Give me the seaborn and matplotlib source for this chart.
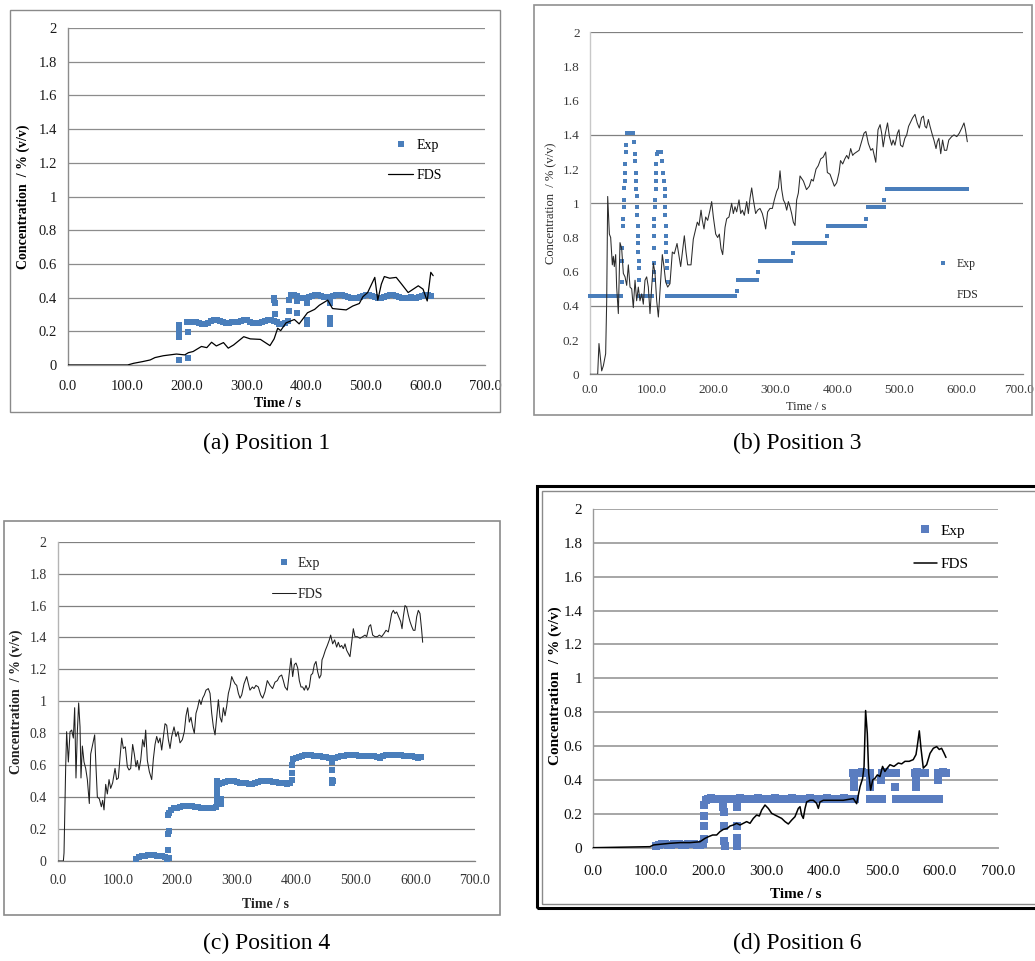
import numpy as np
import pandas as pd
import matplotlib
matplotlib.use("Agg")
import matplotlib.pyplot as plt
import seaborn as sns
from matplotlib.patches import Rectangle
from matplotlib.transforms import ScaledTranslation

# ---------------- data ----------------
x_ticks = [0, 100, 200, 300, 400, 500, 600, 700]
x_tick_labels = ["0.0", "100.0", "200.0", "300.0", "400.0", "500.0", "600.0", "700.0"]
y_ticks = [0, 0.2, 0.4, 0.6, 0.8, 1.0, 1.2, 1.4, 1.6, 1.8, 2.0]
y_tick_labels = ["0", "0.2", "0.4", "0.6", "0.8", "1", "1.2", "1.4", "1.6", "1.8", "2"]
series_names = ["Exp", "FDS"]
captions = ["(a) Position 1", "(b) Position 3", "(c) Position 4", "(d) Position 6"]
y_label = "Concentration  / % (v/v)"
x_label = "Time / s"

# ---- Position 1 ----
a_fds = [(0, 0), (100, 0), (110, 0.01), (125, 0.02), (138, 0.03), (146, 0.044), (160, 0.055),
         (182, 0.065), (196, 0.06), (202, 0.073), (210, 0.08), (224, 0.11), (233, 0.103),
         (241, 0.135), (249, 0.113), (261, 0.133), (269, 0.10), (278, 0.119), (295, 0.168),
         (306, 0.155), (323, 0.152), (339, 0.115), (346, 0.155), (352, 0.218), (357, 0.204),
         (366, 0.25), (380, 0.27), (388, 0.244), (402, 0.31), (414, 0.33), (422, 0.355),
         (436, 0.385), (444, 0.335), (458, 0.33), (467, 0.327), (478, 0.35), (489, 0.365),
         (495, 0.405), (503, 0.43), (515, 0.52), (520, 0.385), (526, 0.48), (531, 0.525),
         (540, 0.515), (551, 0.52), (560, 0.48), (571, 0.43), (588, 0.47), (596, 0.45),
         (603, 0.38), (609, 0.55), (613, 0.53)]
a_exp_t = np.arange(200, 611, 5)
a_exp_v = [0.255, 0.255, 0.255, 0.255, 0.25, 0.245, 0.245, 0.25, 0.26, 0.265,
           0.265, 0.26, 0.255, 0.25, 0.25, 0.255, 0.255, 0.255, 0.26, 0.265,
           0.265, 0.255, 0.25, 0.25, 0.25, 0.255, 0.26, 0.265, 0.265, 0.26,
           0.255, 0.245, 0.245, 0.25, 0.26,
           0.415, 0.415, 0.41, 0.40, 0.40, 0.40, 0.405, 0.41, 0.415, 0.415,
           0.41, 0.405, 0.405, 0.405, 0.41, 0.415, 0.415, 0.415, 0.41, 0.405,
           0.40, 0.40, 0.40, 0.405, 0.41, 0.415, 0.415, 0.41, 0.405, 0.40,
           0.40, 0.405, 0.41, 0.415, 0.415, 0.41, 0.405, 0.40, 0.40, 0.40,
           0.405, 0.40, 0.40, 0.405, 0.41, 0.415, 0.415, 0.41]
a_exp_extra = [(186, 0.236), (186, 0.22), (186, 0.19), (186, 0.167), (186, 0.03), (202, 0.197),
               (202, 0.043), (346, 0.40), (346, 0.385), (347, 0.37), (347, 0.30), (371, 0.385),
               (371, 0.32), (385, 0.38), (385, 0.31), (401, 0.365), (401, 0.27), (401, 0.245),
               (440, 0.365), (440, 0.28), (440, 0.26), (440, 0.245)]

# ---- Position 3 ----
b_fds = [(0, 0), (12.4, 0), (14.5, 0.18), (18.9, 0.02), (21.6, 0.05), (25.3, 0.12), (27, 0.43),
         (28.6, 1.04), (31.3, 0.82), (33.4, 0.80), (36.1, 0.64), (37.7, 0.69), (39.3, 0.63),
         (41.5, 0.70), (43.1, 0.51), (45.8, 0.355), (48.5, 0.77), (51.2, 0.735), (53.9, 0.59),
         (56.6, 0.57), (59.3, 0.52), (62, 0.64), (64.7, 0.51), (67.4, 0.50), (70, 0.39),
         (72.8, 0.55), (75.4, 0.43), (78.1, 0.51), (80.8, 0.43), (83.5, 0.47), (86.2, 0.41),
         (88.9, 0.55), (91.6, 0.57), (94.3, 0.51), (97, 0.355), (99.7, 0.51), (102.4, 0.65),
         (105.1, 0.59), (107.8, 0.43), (110.5, 0.335), (113.2, 0.49), (116.9, 0.70),
         (119.6, 0.63), (122.3, 0.54), (125.6, 0.51), (129.3, 0.53), (133.1, 0.715),
         (136.3, 0.705), (138.5, 0.735), (140.7, 0.765), (143.9, 0.69), (146.6, 0.63),
         (149.8, 0.725), (152.5, 0.81), (155.2, 0.715), (157.9, 0.64), (163.3, 0.64),
         (167, 0.79), (170.8, 0.85), (173.5, 0.89), (176.2, 0.87), (179.5, 0.96), (181.6, 0.90),
         (184.3, 0.85), (187, 0.92), (190.2, 0.90), (194, 0.96), (196.7, 1.01), (199.4, 0.92),
         (203.2, 0.82), (206.4, 0.80), (209.1, 0.82), (211.8, 0.735), (214.5, 0.70),
         (218.3, 0.86), (221, 0.91), (224.7, 0.92), (229, 1.0), (231.7, 0.94), (234.4, 0.98),
         (237.1, 0.95), (240.9, 1.02), (243.6, 0.94), (246.3, 0.96), (249.5, 0.93),
         (253.3, 1.01), (256, 0.94), (258.7, 1.03), (261.4, 1.09), (264.1, 1.02), (267.8, 0.94),
         (271, 0.96), (274.8, 0.97), (278.6, 0.94), (281.3, 0.90), (284, 0.85), (287.2, 0.95),
         (291, 0.97), (294.8, 0.97), (298, 1.02), (301.8, 1.07), (304.5, 1.09), (307.2, 1.19),
         (309.9, 1.08), (312.6, 1.02), (315.3, 1.00), (318, 0.96), (320.7, 1.01), (323.3, 0.98),
         (326, 0.94), (328.7, 0.89), (331.4, 0.87), (334.1, 1.02), (336.8, 1.06), (339.5, 1.16),
         (345, 1.13), (350, 1.08), (354.6, 1.10), (358, 1.14), (361, 1.13), (365.4, 1.20),
         (369, 1.22), (373, 1.26), (377, 1.27), (381, 1.30), (383.7, 1.18), (388, 1.17),
         (392, 1.13), (395, 1.10), (398.8, 1.12), (402.6, 1.18), (405, 1.25), (408.5, 1.23),
         (412, 1.26), (415, 1.28), (418, 1.26), (421.4, 1.32), (424.6, 1.28), (427, 1.29),
         (431, 1.30), (435, 1.31), (439, 1.36), (443, 1.41), (446, 1.42), (450, 1.35),
         (454, 1.31), (457, 1.32), (462, 1.24), (465.6, 1.43), (469, 1.46), (471.5, 1.41),
         (474, 1.33), (477.5, 1.41), (481, 1.47), (484, 1.39), (487.7, 1.34), (490, 1.37),
         (493, 1.34), (497, 1.41), (499.5, 1.43), (502, 1.34), (505.5, 1.33), (509, 1.38),
         (512, 1.40), (515, 1.45), (519, 1.48), (521.6, 1.50), (525.4, 1.52), (529, 1.47),
         (532.4, 1.44), (536, 1.50), (539, 1.51), (541.6, 1.45), (544, 1.44), (547, 1.49),
         (549.7, 1.45), (553.5, 1.40), (556, 1.37), (559.4, 1.32), (561.5, 1.36), (564, 1.38),
         (567, 1.29), (570, 1.37), (573, 1.31), (576.6, 1.31), (580, 1.37), (584.7, 1.39),
         (588.5, 1.40), (593, 1.39), (597, 1.41), (601, 1.44), (604.6, 1.47), (607, 1.43),
         (610, 1.36)]
b_exp_t = np.arange(0, 611, 5)
b_exp_v = ([0.46] * 11 + [np.nan] + [1.41] * 3 + [np.nan] + [0.46] * 5 + [np.nan]
           + [1.30] * 2 + [np.nan] + [0.46] * 23 + [0.55] * 7 + [0.66] * 11 + [0.77] * 11
           + [0.87] * 13 + [0.98] * 6 + [1.085] * 27)
b_exp_extra = [(51, 0.54), (51, 0.74), (52, 0.66), (53, 0.87), (53, 0.91), (54.5, 0.98),
               (54.5, 1.02), (55.5, 1.09), (56, 1.13), (56.5, 1.18), (57, 1.23), (58, 1.30),
               (59, 1.34), (71.5, 1.36), (72.5, 1.29), (73, 1.245), (74, 1.18), (74.5, 1.13),
               (75, 1.085), (75.5, 1.04), (76, 0.98), (76.5, 0.93), (77, 0.865), (77.5, 0.81),
               (78, 0.77), (78, 0.715), (78.5, 0.66), (78.5, 0.62), (78.5, 0.55),
               (103, 0.55), (103, 0.60), (103, 0.65), (103.5, 0.74), (104, 0.81), (104, 0.87),
               (104, 0.91), (105, 0.98), (105, 1.02), (106, 1.085), (106.5, 1.13), (107, 1.18),
               (107.5, 1.23), (108, 1.29), (117, 1.25), (118.5, 1.18), (119.5, 1.13),
               (120.5, 1.085), (121, 1.04), (121.5, 0.98), (122, 0.93), (122.5, 0.87),
               (123, 0.81), (123, 0.77), (123.5, 0.715), (124, 0.66), (124.5, 0.62),
               (125.5, 0.54), (237, 0.49), (272, 0.60), (328.7, 0.71), (382.6, 0.81),
               (446, 0.91), (476, 1.02)]

# ---- Position 4 ----
c_fds = [(0, 0), (8.5, 0), (9.6, 0.05), (12.4, 0.59), (14, 0.81), (16.9, 0.62), (19.7, 0.81),
         (22.5, 0.82), (25.3, 0.77), (27.5, 0.96), (29.7, 0.52), (32, 0.81), (34.2, 0.99),
         (36.5, 0.84), (38.1, 0.52), (40.4, 0.72), (43.2, 0.62), (46, 0.58), (48.8, 0.51),
         (52.1, 0.36), (54.4, 0.67), (57.7, 0.73), (61.1, 0.79), (63.3, 0.59), (65.6, 0.40),
         (68.9, 0.39), (72.3, 0.34), (74.5, 0.38), (76.8, 0.32), (79.6, 0.48), (82.4, 0.42),
         (85.2, 0.51), (88, 0.455), (91.3, 0.49), (95.3, 0.58), (98, 0.51), (100.9, 0.52),
         (103.7, 0.65), (106.5, 0.77), (109.3, 0.705), (112.6, 0.715), (116, 0.59),
         (118.8, 0.57), (121.6, 0.58), (124.9, 0.73), (127.7, 0.67), (130.5, 0.59),
         (132.8, 0.63), (135.6, 0.57), (138.4, 0.63), (141.7, 0.76), (144.5, 0.715),
         (146.8, 0.82), (149.6, 0.63), (152.9, 0.56), (156.9, 0.51), (159.7, 0.64),
         (162.5, 0.73), (165.3, 0.78), (168.1, 0.74), (170.9, 0.77), (173.7, 0.695),
         (176.5, 0.78), (179.3, 0.86), (182.1, 0.85), (184.9, 0.76), (187.7, 0.705),
         (190.5, 0.78), (194.4, 0.84), (197.7, 0.78), (201.1, 0.81), (204.5, 0.74),
         (208.4, 0.76), (211.7, 0.81), (214.5, 0.91), (217.3, 0.96), (220.1, 0.87),
         (222.9, 0.90), (225.7, 0.84), (228.5, 0.80), (231.3, 0.925), (234.1, 0.96),
         (236.9, 1.01), (239.7, 0.98), (242.5, 1.02), (245.3, 1.04), (248.1, 1.07), (252, 1.08),
         (254.9, 1.05), (257.7, 0.925), (260.5, 0.84), (263.3, 0.79), (266.1, 0.90),
         (268.9, 1.01), (271.7, 0.90), (274.5, 0.87), (277.3, 0.96), (280.1, 0.91),
         (282.9, 0.97), (285.7, 1.05), (288.5, 1.09), (291.3, 1.155), (294.1, 1.13),
         (296.9, 1.11), (299.7, 1.10), (302.5, 1.05), (305.3, 1.02), (308.1, 1.04), (312, 1.11),
         (316.5, 1.155), (319.3, 1.11), (322, 1.07), (326, 1.09), (328.8, 1.08), (332, 1.10),
         (336, 1.09), (340, 1.04), (343.3, 1.02), (347.2, 1.06), (351.1, 1.13), (355.6, 1.10),
         (360, 1.08), (364, 1.12), (368, 1.13), (371.3, 1.155), (375.2, 1.165), (378, 1.13),
         (380.8, 1.09), (384.7, 1.07), (388, 1.175), (390.9, 1.27), (393.7, 1.155),
         (396.5, 1.23), (399.3, 1.24), (402.1, 1.21), (404.9, 1.13), (407.7, 1.09),
         (410.5, 1.09), (413.3, 1.07), (416.1, 1.10), (418.9, 1.07), (421.7, 1.09),
         (424.5, 1.165), (427.3, 1.175), (430.1, 1.23), (432.9, 1.25), (435.7, 1.185),
         (438.5, 1.145), (441.3, 1.165), (443, 1.26), (445.2, 1.28), (448.6, 1.32),
         (451.9, 1.35), (455.3, 1.385), (457.5, 1.415), (460.9, 1.36), (464.2, 1.385),
         (467.6, 1.34), (470.4, 1.37), (473.2, 1.34), (476, 1.35), (478.8, 1.33),
         (481.6, 1.36), (484.4, 1.32), (487.2, 1.30), (490, 1.28), (492.8, 1.37),
         (495.6, 1.455), (498.4, 1.405), (502.3, 1.405), (506.8, 1.395), (511.3, 1.405),
         (515.2, 1.415), (518, 1.405), (522, 1.47), (524.7, 1.48), (528.1, 1.415),
         (532, 1.405), (536, 1.405), (539.3, 1.415), (543.2, 1.405), (547.1, 1.425),
         (550.5, 1.445), (554.4, 1.435), (557.2, 1.49), (560, 1.55), (562.8, 1.57),
         (565.6, 1.55), (568.4, 1.56), (571.8, 1.53), (575.1, 1.50), (577.4, 1.455),
         (579.6, 1.53), (582.4, 1.60), (585.2, 1.59), (588, 1.54), (590.8, 1.50),
         (593.6, 1.47), (596.4, 1.445), (599.2, 1.445), (602, 1.53), (604.8, 1.57),
         (607.6, 1.55), (610.4, 1.445), (612.1, 1.37)]
c_exp_t = np.arange(130, 611, 5)
c_exp_v = [0.01, 0.025, 0.03, 0.03, 0.035, 0.035, 0.035, 0.03, 0.03, 0.03, 0.025, 0.02,
           0.32, 0.33, 0.335, 0.34, 0.345, 0.345, 0.345, 0.345, 0.34, 0.34, 0.335, 0.335,
           0.335, 0.335, 0.335, 0.34,
           0.485, 0.49, 0.495, 0.50, 0.50, 0.50, 0.495, 0.49, 0.49, 0.49, 0.485, 0.485,
           0.49, 0.495, 0.50, 0.50, 0.50, 0.50, 0.495, 0.495, 0.49, 0.49, 0.49, 0.485, 0.49,
           0.64, 0.645, 0.65, 0.66, 0.665, 0.665, 0.665, 0.66, 0.655, 0.655,
           0.65, 0.65, 0.645, 0.63, 0.645, 0.65, 0.655, 0.66, 0.665, 0.665,
           0.665, 0.665, 0.66, 0.66, 0.655, 0.655, 0.655, 0.655, 0.65, 0.645,
           0.655, 0.665, 0.665, 0.665, 0.665, 0.665, 0.665, 0.66, 0.655, 0.655,
           0.655, 0.65, 0.645, 0.65]
c_exp_extra = [(183, 0.01), (186, 0.02), (185, 0.07), (185, 0.17), (186, 0.19), (185, 0.29),
               (186, 0.30), (266, 0.37), (266, 0.40), (267, 0.43), (267, 0.465), (267, 0.50),
               (273, 0.36), (274, 0.39), (393, 0.51), (393, 0.55), (393, 0.60), (459, 0.62),
               (459, 0.57), (460, 0.51), (460, 0.49), (461, 0.50)]

# ---- Position 6 ----
d_fds = [(0, 0), (99, 0.006), (105, 0.016), (116, 0.02), (133.6, 0.026), (151, 0.03),
         (168, 0.03), (185.4, 0.035), (194, 0.055), (200, 0.065), (207.3, 0.075),
         (214.3, 0.075), (220, 0.095), (225.8, 0.108), (232.7, 0.114), (237.3, 0.128),
         (243, 0.134), (248.8, 0.144), (254.6, 0.134), (260.3, 0.144), (266.1, 0.154),
         (271.9, 0.144), (277.6, 0.173), (283.4, 0.193), (288, 0.187), (292, 0.222),
         (297.8, 0.252), (303.5, 0.232), (309.3, 0.203), (315, 0.193), (320.8, 0.183),
         (326.6, 0.173), (332.4, 0.154), (338.1, 0.14), (343.9, 0.163), (349.6, 0.183),
         (355.4, 0.232), (358.3, 0.242), (361.1, 0.193), (364, 0.173), (367, 0.232),
         (369.8, 0.27), (375.6, 0.28), (381.3, 0.28), (387, 0.262), (390, 0.232), (392.8, 0.27),
         (398.6, 0.28), (410, 0.28), (433, 0.28), (450.5, 0.29), (456.2, 0.26), (462, 0.36),
         (466.6, 0.41), (469, 0.48), (471.7, 0.81), (474.6, 0.675), (477, 0.44), (480.4, 0.34),
         (483.9, 0.40), (487.9, 0.41), (492, 0.43), (496.5, 0.42), (501, 0.48), (505, 0.45),
         (509, 0.47), (513.8, 0.49), (520.7, 0.48), (528.2, 0.50), (534, 0.495), (539.7, 0.51),
         (547, 0.51), (554, 0.52), (558.8, 0.55), (561.6, 0.615), (564.5, 0.69), (567.4, 0.587),
         (571.4, 0.47), (577.2, 0.49), (583, 0.557), (588.7, 0.587), (594.5, 0.597),
         (599, 0.58), (603, 0.587), (607, 0.56), (610.6, 0.533)]
d_exp_t = np.arange(110, 611, 5)
d_exp_v = ([0.01, 0.015, 0.02, 0.02, 0.015, 0.015, 0.02, 0.02, 0.02, 0.015, 0.015, 0.02, 0.02,
            0.02, 0.015, 0.015, 0.02]
           + [0.28, 0.29, 0.295, 0.29, 0.285, 0.29, 0.285] + [np.nan]
           + [0.29, 0.29, 0.285, 0.29, 0.295, 0.29, 0.29, 0.285, 0.29, 0.29,
              0.295, 0.29, 0.29, 0.285, 0.29, 0.29, 0.295, 0.29, 0.285, 0.29,
              0.29, 0.29, 0.295, 0.29, 0.285, 0.29, 0.29, 0.29, 0.295, 0.29,
              0.285, 0.29, 0.29, 0.29, 0.295, 0.29, 0.285, 0.29, 0.29, 0.29,
              0.295, 0.29, 0.285, 0.29]
           + [0.44, 0.44, 0.445, 0.44, 0.44] + [0.29, 0.29, 0.285, 0.29]
           + [0.44, 0.445, 0.44, 0.44, 0.44]
           + [0.29, 0.29, 0.285, 0.29, 0.29, 0.285, 0.29, 0.29, 0.29, 0.29, 0.29, 0.285, 0.29,
              0.29, 0.285]
           + [0.44, 0.445, 0.44])
d_exp_extra = [(450, 0.44), (480, 0.44), (525, 0.44), (557, 0.44), (560, 0.445), (565, 0.44),
               (570, 0.44), (575, 0.44), (597, 0.44), (453, 0.29), (500, 0.29), (598, 0.29),
               (452, 0.40), (452, 0.36), (479, 0.40), (479, 0.36), (499, 0.40), (522, 0.36),
               (558, 0.40), (558, 0.36), (596, 0.40), (193, 0.05), (193, 0.13), (193, 0.19),
               (193, 0.25), (226, 0.24), (227, 0.21), (227, 0.13), (227, 0.04), (228, 0.01),
               (250, 0.24), (250, 0.13), (250, 0.06), (250, 0.01)]

# ---------------- figure ----------------
sns.set_style("white")
plt.rcParams["font.family"] = ["Liberation Serif", "DejaVu Serif"]

W, H = 1035, 961
fig = plt.figure(figsize=(W / 100, H / 100), dpi=100)
fig.patch.set_facecolor("white")


def fx(x):
    return x / W


def fy(y):
    return 1 - y / H


def px_rect(l, t, r, b, **kw):
    fig.add_artist(Rectangle((fx(l), fy(b)), (r - l) / W, (b - t) / H, fill=False,
                             transform=fig.transFigure, **kw))


panels = [
    dict(box=(68, 28, 485, 365), fds=a_fds, et=a_exp_t, ev=a_exp_v, ex=a_exp_extra,
         blue="#4a7ebb", ms=19, line="black", lw=0.9, grid="#8c8c8c", glw=0.9, lspine="#8c8c8c",
         tick_fs=10.5, tick_col="#1a1a1a", ypad=8, xpad=10.5,
         lab_fs=10, lab_w="bold", lab_col="black", ylab_xy=(23, 196.5), xlab_xy=(277, 403),
         leg_fs=10, leg_xy=(388, 139), leg_L=1.8, leg_p=0.27, leg_s=1.22, fds_leg=True,
         grid_levels=None, border=dict(r=(10, 10, 500, 412), ec="#8a8a8a", lw=1.0),
         last_shift=0),
    dict(box=(590, 32.3, 1023, 374.3), fds=b_fds, et=b_exp_t, ev=b_exp_v, ex=b_exp_extra,
         blue="#4a7ebb", ms=6, line="#2b2b2b", lw=0.75, grid="#808080", glw=0.9,
         lspine="#c8c8c8", tick_fs=9.5, tick_col="#3a3a3a", ypad=7.5, xpad=7,
         lab_fs=9, lab_w="normal", lab_col="#2a2a2a", ylab_xy=(551, 203), xlab_xy=(806, 407),
         leg_fs=8.5, leg_xy=(931, 258), leg_L=2.0, leg_p=0.2, leg_s=1.6, fds_leg=False,
         grid_levels=[0.4, 1.0, 1.4, 2.0], border=dict(r=(534, 5, 1032, 415), ec="#909090", lw=1.2),
         last_shift=-4),
    dict(box=(58.3, 541.7, 475, 861), fds=c_fds, et=c_exp_t, ev=c_exp_v, ex=c_exp_extra,
         blue="#4a7ebb", ms=14, line="#1f1f1f", lw=0.75, grid="#808080", glw=0.9,
         lspine="#b4b4b4", tick_fs=10, tick_col="#333333", ypad=8.4, xpad=9,
         lab_fs=10, lab_w="bold", lab_col="#222222", ylab_xy=(16, 701.5), xlab_xy=(266, 905),
         leg_fs=10, leg_xy=(272, 557), leg_L=1.75, leg_p=0.1, leg_s=1.32, fds_leg=True,
         grid_levels=None, border=dict(r=(4, 521, 500, 915), ec="#8a8a8a", lw=1.2),
         last_shift=0),
    dict(box=(592.7, 509, 997.7, 847.7), fds=d_fds, et=d_exp_t, ev=d_exp_v, ex=d_exp_extra,
         blue="#5a7dc0", ms=28, line="black", lw=1.1, grid="#a6a6a6", glw=1.4,
         lspine="#9a9a9a", tick_fs=11, tick_col="#111111", ypad=7.5, xpad=12.5,
         lab_fs=11, lab_w="bold", lab_col="black", ylab_xy=(555, 686), xlab_xy=(796, 894),
         leg_fs=11, leg_xy=(914, 524), leg_L=1.5, leg_p=0.24, leg_s=1.28, fds_leg=True,
         grid_levels=None, border=None, last_shift=0),
]

for i, P in enumerate(panels):
    l, t, r, b = P["box"]
    ax = fig.add_axes([fx(l), fy(b), (r - l) / W, (b - t) / H])
    ax.set_facecolor("white")

    ext_t = [p[0] for p in P["ex"]]
    ext_v = [p[1] for p in P["ex"]]
    df_e = pd.DataFrame({"t": np.concatenate([P["et"], ext_t]),
                         "v": np.concatenate([np.array(P["ev"], dtype=float), ext_v])}).dropna()
    df_f = pd.DataFrame({"t": [p[0] for p in P["fds"]], "v": [p[1] for p in P["fds"]]})

    sns.scatterplot(data=df_e, x="t", y="v", marker="s", s=P["ms"], color=P["blue"],
                    linewidth=0, label=series_names[0], ax=ax, zorder=3, clip_on=False)
    sns.lineplot(data=df_f, x="t", y="v", color=P["line"], linewidth=P["lw"],
                 label=series_names[1], ax=ax, zorder=4, estimator=None)

    ax.set_xlim(0, 700)
    ax.set_ylim(0, 2)
    ax.set_xticks(x_ticks)
    ax.set_xticklabels(x_tick_labels)
    ax.set_yticks(y_ticks)
    ax.set_yticklabels(y_tick_labels)
    ax.tick_params(axis="both", length=0, labelsize=P["tick_fs"], colors=P["tick_col"])
    ax.tick_params(axis="y", pad=P["ypad"])
    ax.tick_params(axis="x", pad=P["xpad"])
    if P["last_shift"]:
        lbl = ax.get_xticklabels()[-1]
        lbl.set_transform(lbl.get_transform()
                          + ScaledTranslation(P["last_shift"] / 100, 0, fig.dpi_scale_trans))

    ax.yaxis.grid(True, color=P["grid"], linewidth=P["glw"])
    ax.xaxis.grid(False)
    ax.set_axisbelow(True)
    if P["grid_levels"] is not None:
        for gl, val in zip(ax.get_ygridlines(), y_ticks):
            if not any(abs(val - g) < 1e-6 for g in P["grid_levels"]):
                gl.set_visible(False)

    for s in ["top", "right"]:
        ax.spines[s].set_visible(False)
    ax.spines["left"].set_color(P["lspine"])
    ax.spines["left"].set_linewidth(1.0)
    ax.spines["bottom"].set_color(P["grid"])
    ax.spines["bottom"].set_linewidth(P["glw"])

    ax.set_ylabel(y_label, fontsize=P["lab_fs"], fontweight=P["lab_w"], color=P["lab_col"],
                  va="center", ha="center")
    ax.set_xlabel(x_label, fontsize=P["lab_fs"], fontweight=P["lab_w"], color=P["lab_col"],
                  va="center", ha="center")
    ax.yaxis.set_label_coords(fx(P["ylab_xy"][0]), fy(P["ylab_xy"][1]), transform=fig.transFigure)
    ax.xaxis.set_label_coords(fx(P["xlab_xy"][0]), fy(P["xlab_xy"][1]), transform=fig.transFigure)

    h, lab = ax.get_legend_handles_labels()
    leg = ax.legend(h, lab, loc="upper left",
                    bbox_to_anchor=(fx(P["leg_xy"][0]), fy(P["leg_xy"][1])),
                    bbox_transform=fig.transFigure, frameon=False, borderpad=0,
                    borderaxespad=0, handlelength=P["leg_L"], handletextpad=P["leg_p"],
                    labelspacing=P["leg_s"], fontsize=P["leg_fs"], scatterpoints=1,
                    scatteryoffsets=[0.5])
    for txt in leg.get_texts():
        txt.set_color(P["lab_col"])
    if not P["fds_leg"]:
        leg.legend_handles[1].set_visible(False)

    if P["border"] is not None:
        bd = P["border"]
        px_rect(*bd["r"], edgecolor=bd["ec"], linewidth=bd["lw"])

# thick double border of panel (d)
px_rect(537, 486, 1045, 907.5, edgecolor="black", linewidth=2.2)
px_rect(541.5, 491, 1045, 903.5, edgecolor="#8a8a8a", linewidth=1.0)

cap_pos = [(267, 443), (797, 443), (267, 943), (797, 943)]
for (cx, cy), cap in zip(cap_pos, captions):
    fig.text(fx(cx), fy(cy), cap, ha="center", va="center", fontsize=17, color="black")

fig.savefig("out.png", dpi=100, facecolor="white")
